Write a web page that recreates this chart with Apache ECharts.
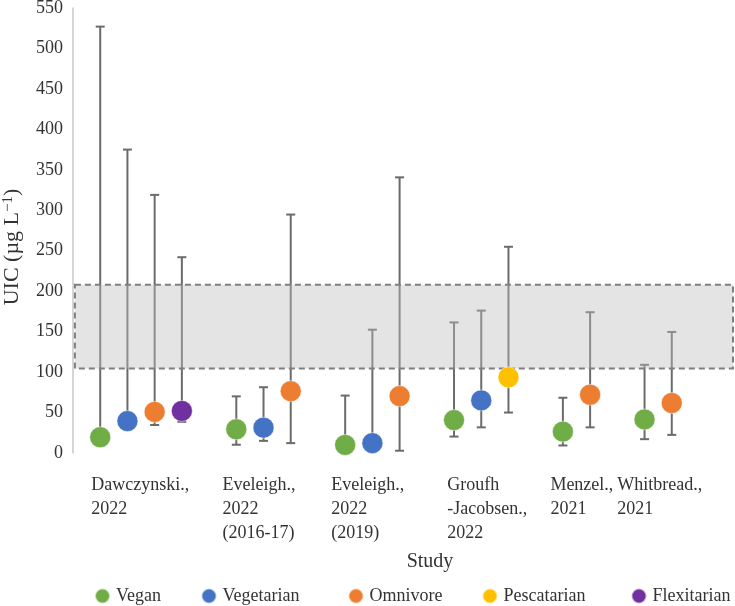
<!DOCTYPE html>
<html>
<head>
<meta charset="utf-8">
<script src="https://cdn.jsdelivr.net/npm/echarts@6/dist/echarts.min.js"></script>
<style>
html,body{margin:0;padding:0;background:#fff;}
#chart{width:735px;height:606px;}
</style>
</head>
<body>
<div id="chart"></div>
<script>
// ---- data ----
const studyLabels = ["Dawczynski.,\n2022", "Eveleigh.,\n2022\n(2016-17)", "Eveleigh.,\n2022\n(2019)", "Groufh\n-Jacobsen.,\n2022", "Menzel.,\n2021", "Whitbread.,\n2021"];
const studyLabelTicks = [0.67, 5.49, 9.49, 13.75, 17.54, 20.0];
const yTicks = [0, 50, 100, 150, 200, 250, 300, 350, 400, 450, 500, 550];

const veganX = [1, 6, 10, 14, 18, 21];
const veganMean = [19.5, 29.3, 10, 40.7, 26.4, 41.5];
const veganLow = [19.5, 10.2, 10, 20.3, 9.3, 17.1];
const veganHigh = [527, 70, 71, 161.4, 68.3, 109];

const vegetarianX = [2, 7, 11, 15];
const vegetarianMean = [39.4, 31.3, 12.2, 65];
const vegetarianLow = [39.4, 15, 12.2, 31.7];
const vegetarianHigh = [375, 81.3, 152.4, 176];

const omnivoreX = [3, 8, 12, 19, 22];
const omnivoreMean = [50.8, 76.4, 70.3, 72, 61.8];
const omnivoreLow = [34.6, 12.2, 2.8, 31.7, 22.4];
const omnivoreHigh = [319, 294.7, 340.7, 174, 149.6];

const pescatarianX = [16];
const pescatarianMean = [93.5];
const pescatarianLow = [50];
const pescatarianHigh = [254.9];

const flexitarianX = [4];
const flexitarianMean = [52];
const flexitarianLow = [38.6];
const flexitarianHigh = [242];

const bandLow = 104.5;
const bandHigh = 208;
const xMin = 0, xMax = 24.25;

// ---- build ----
const groups = [
  {name: 'Vegan', color: '#70AD47', x: veganX, m: veganMean, lo: veganLow, hi: veganHigh},
  {name: 'Vegetarian', color: '#4472C4', x: vegetarianX, m: vegetarianMean, lo: vegetarianLow, hi: vegetarianHigh},
  {name: 'Omnivore', color: '#ED7D31', x: omnivoreX, m: omnivoreMean, lo: omnivoreLow, hi: omnivoreHigh},
  {name: 'Pescatarian', color: '#FFC000', x: pescatarianX, m: pescatarianMean, lo: pescatarianLow, hi: pescatarianHigh},
  {name: 'Flexitarian', color: '#7030A0', x: flexitarianX, m: flexitarianMean, lo: flexitarianLow, hi: flexitarianHigh}
];
const legendLefts = [94, 200.5, 347.5, 481.5, 630.5];

const errData = [];
groups.forEach(g => g.x.forEach((x, i) => errData.push([x, g.lo[i], g.hi[i], g.m[i]])));

const FONT = "'Liberation Serif', 'Times New Roman', serif";
const TXT = '#333333';
const ERR = '#6b6b6b';

const scatterSeries = groups.map(g => ({
  name: g.name,
  type: 'scatter',
  z: 5,
  symbol: 'circle',
  symbolSize: 21,
  itemStyle: {color: g.color, opacity: 1, borderColor: 'rgba(255,255,255,0.6)', borderWidth: 0.8},
  emphasis: {disabled: true},
  data: g.x.map((x, i) => [x, g.m[i]])
}));

const legends = groups.map((g, i) => ({
  data: [g.name],
  left: legendLefts[i], top: 587, padding: 0,
  icon: 'circle', itemWidth: 15, itemHeight: 15,
  textStyle: {fontFamily: FONT, fontSize: 18, color: TXT, padding: [0, 0, 0, 1]}
}));

const chart = echarts.init(document.getElementById('chart'), null, {renderer: 'canvas'});
chart.setOption({
  animation: false,
  backgroundColor: '#ffffff',
  textStyle: {fontFamily: FONT},
  grid: {left: 73, right: 2, top: 8, bottom: 153, containLabel: false, outerBoundsMode: 'none'},
  legend: legends,
  xAxis: {
    type: 'value', min: xMin, max: xMax,
    name: 'Study', nameLocation: 'middle', nameGap: 99,
    nameTextStyle: {fontFamily: FONT, fontSize: 20, color: TXT, padding: [0, 0, 0, 54]},
    axisLine: {show: false}, axisTick: {show: false}, splitLine: {show: false},
    axisLabel: {
      customValues: studyLabelTicks,
      showMinLabel: true, showMaxLabel: true,
      align: 'left', verticalAlign: 'top', margin: 20,
      fontFamily: FONT, fontSize: 18, lineHeight: 24, color: TXT,
      formatter: function (v) {
        let best = 0, bd = Infinity;
        studyLabelTicks.forEach((t, i) => { const d = Math.abs(t - v); if (d < bd) { bd = d; best = i; } });
        return studyLabels[best];
      }
    }
  },
  yAxis: {
    type: 'value', min: yTicks[0], max: yTicks[yTicks.length - 1], interval: 50,
    name: 'UIC (µg L{sup|−1})', nameLocation: 'middle', nameGap: 50,
    nameTextStyle: {
      fontFamily: FONT, fontSize: 22, color: TXT, padding: [0, 33, 0, 0],
      rich: {sup: {fontFamily: FONT, fontSize: 15, color: TXT, verticalAlign: 'top', lineHeight: 22}}
    },
    axisLine: {show: true, lineStyle: {color: '#c8c8c8', width: 1.5}},
    axisTick: {show: false}, splitLine: {show: false},
    axisLabel: {fontFamily: FONT, fontSize: 18, color: TXT, margin: 10}
  },
  series: [
    {
      type: 'custom', name: 'errorbars', z: 2, silent: true,
      renderItem: function (params, api) {
        const x = api.value(0), lo = api.value(1), hi = api.value(2), m = api.value(3);
        const pH = api.coord([x, hi]), pL = api.coord([x, lo]);
        const st = {stroke: ERR, lineWidth: 2};
        const ch = [
          {type: 'line', shape: {x1: pH[0], y1: pH[1], x2: pL[0], y2: pL[1]}, style: st},
          {type: 'line', shape: {x1: pH[0] - 4.5, y1: pH[1], x2: pH[0] + 4.5, y2: pH[1]}, style: st}
        ];
        if (lo < m) ch.push({type: 'line', shape: {x1: pL[0] - 4.5, y1: pL[1], x2: pL[0] + 4.5, y2: pL[1]}, style: st});
        return {type: 'group', children: ch};
      },
      encode: {x: 0, y: [1, 2]},
      data: errData
    },
    {
      type: 'custom', name: 'band', z: 3, silent: true, clip: false,
      renderItem: function (params, api) {
        const p1 = api.coord([api.value(0), api.value(3)]);
        const p2 = api.coord([api.value(1), api.value(2)]);
        return {
          type: 'rect',
          shape: {x: p1[0], y: p1[1], width: p2[0] - p1[0], height: p2[1] - p1[1]},
          style: {fill: 'rgba(189,189,189,0.41)', stroke: '#7f7f7f', lineWidth: 2, lineDash: [6, 4]}
        };
      },
      encode: {x: [0, 1], y: [2, 3]},
      data: [[0.07, xMax, bandLow, bandHigh]]
    }
  ].concat(scatterSeries)
});
</script>
</body>
</html>
